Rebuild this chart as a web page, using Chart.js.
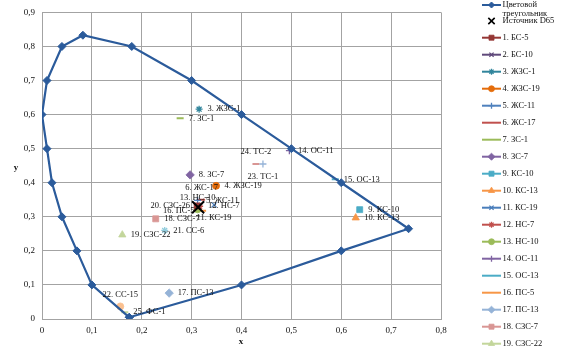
<!DOCTYPE html>
<html><head><meta charset="utf-8">
<script src="https://cdn.jsdelivr.net/npm/chart.js@4"></script>
<style>html,body{margin:0;padding:0;background:#fff;}#wrap{width:569px;height:356px;}</style>
</head><body><div id="wrap"><canvas id="c" width="569" height="356"></canvas></div>
<script>
// ---- data ----
const triName = 'Цветовой треугольник';
const triX = [0.175, 0.1, 0.07, 0.04, 0.02, 0.01, 0, 0.01, 0.04, 0.082, 0.18, 0.3, 0.4, 0.5, 0.6, 0.735, 0.6, 0.4, 0.175];
const triY = [0.005, 0.1, 0.2, 0.3, 0.4, 0.5, 0.6, 0.7, 0.8, 0.833, 0.8, 0.7, 0.6, 0.5, 0.4, 0.265, 0.2, 0.1, 0.005];
const d65Name = 'Источник D65';
const d65X = [0.313];
const d65Y = [0.328];
const sampleNames = ['1. БС-5','2. БС-10','3. ЖЗС-1','4. ЖЗС-19','5. ЖС-11','6. ЖС-17','7. ЗС-1','8. ЗС-7','9. КС-10','10. КС-13','11. КС-19','12. НС-7','13. НС-10','14. ОС-11','15. ОС-13','16. ПС-5','17. ПС-13','18. СЗС-7','19. СЗС-22','20. СЗС-26','21. СС-6','22. СС-15','23. ТС-1','24. ТС-2','25. ФС-1'];
const sampleX = [0.311, 0.313, 0.315, 0.349, 0.312, 0.32, 0.277, 0.297, 0.637, 0.629, 0.345, 0.316, 0.312, 0.496, 0.588, 0.322, 0.255, 0.228, 0.161, 0.313, 0.246, 0.157, 0.443, 0.429, 0.166];
const sampleY = [0.332, 0.33, 0.616, 0.391, 0.348, 0.35, 0.589, 0.423, 0.321, 0.297, 0.335, 0.331, 0.322, 0.494, 0.41, 0.318, 0.076, 0.294, 0.247, 0.333, 0.26, 0.037, 0.455, 0.455, 0.02];
const xTickLabels = ['0','0,1','0,2','0,3','0,4','0,5','0,6','0,7','0,8'];
const yTickLabels = ['0','0,1','0,2','0,3','0,4','0,5','0,6','0,7','0,8','0,9'];
const xTitle = 'x';
const yTitle = 'y';

// ---- styles ----
const triColor = '#2b5b9b';
const sampleColors = ['#953735','#604a7b','#31859c','#e46c0a','#4f81bd','#c0504d','#9bbb59','#8064a2','#4bacc6','#f79646','#4a7ebb','#c0504d','#9bbb59','#8064a2','#4bacc6','#f79646','#95b3d7','#d99694','#c3d69b','#b3a2c7','#93cddd','#fac090','#95b3d7','#d99694','#c3d69b'];
const sampleMarkers = ['rect','crossRot','star','circle','cross','line','line','rectRot','rect','triangle','crossRot','star','circle','cross','line','line','rectRot','rect','triangle','crossRot','star','circle','cross','line','line'];
const labelPos = ['none','none','right','right','right','above','right','right','right','right','below','right','above','right','right','left','right','right','right','left','right','above','below','above','right'];
const FONT = '"Liberation Serif", "DejaVu Serif", serif';

function toPts(xs, ys){ return xs.map((x,i)=>({x:x, y:ys[i]})); }
function markerRadius(m){ return m==='rectRot'?4.2 : m==='rect'?4.2 : m==='circle'?3.5 : m==='triangle'?4.2 : m==='line'?3.5 : 3.5; }
function markerBW(m){ return (m==='line')?2 : (m==='crossRot'||m==='cross'||m==='star')?1.3 : 0.8; }

const datasets = [
  { label: triName, data: toPts(triX, triY), showLine: true, borderColor: triColor, backgroundColor: triColor,
    borderWidth: 2.2, pointStyle: 'rectRot', pointRadius: 4, pointBorderWidth: 1, pointBackgroundColor: triColor, pointBorderColor: triColor, tension: 0 },
  { label: d65Name, data: toPts(d65X, d65Y), showLine: false, pointStyle: 'crossRot', pointRadius: 8.5,
    pointBorderWidth: 2, pointBorderColor: '#000', pointBackgroundColor: '#000' }
];
sampleNames.forEach((n,i)=>{
  const m = sampleMarkers[i];
  datasets.push({ label: n, data: [{x: sampleX[i], y: sampleY[i]}], showLine: false, pointStyle: m,
    pointRadius: markerRadius(m), pointBorderWidth: markerBW(m), pointBorderColor: sampleColors[i],
    pointBackgroundColor: sampleColors[i], borderColor: sampleColors[i], backgroundColor: sampleColors[i] });
});

const drawPt = (Chart.helpers && Chart.helpers.drawPoint) ? Chart.helpers.drawPoint : null;

const overlay = {
  id: 'overlay',
  afterDatasetsDraw(chart){
    const ctx = chart.ctx;
    ctx.save();
    ctx.font = '8.5px ' + FONT;
    ctx.fillStyle = '#111';
    for (let i = 0; i < sampleNames.length; i++){
      const pos = labelPos[i];
      if (pos === 'none') continue;
      const meta = chart.getDatasetMeta(i + 2);
      const el = meta.data[0];
      if (!el) continue;
      const px = el.x, py = el.y;
      if (pos === 'right'){ ctx.textAlign='left'; ctx.textBaseline='middle'; ctx.fillText(sampleNames[i], px+8.5, py); }
      else if (pos === 'left'){ ctx.textAlign='right'; ctx.textBaseline='middle'; ctx.fillText(sampleNames[i], px-8, py); }
      else if (pos === 'above'){ ctx.textAlign='center'; ctx.textBaseline='middle'; ctx.fillText(sampleNames[i], px, py-12); }
      else if (pos === 'below'){ ctx.textAlign='center'; ctx.textBaseline='middle'; ctx.fillText(sampleNames[i], px, py+13); }
    }
    ctx.restore();
  },
  afterDraw(chart){
    const ctx = chart.ctx;
    ctx.save();
    // axis titles
    ctx.font = 'bold 9px ' + FONT;
    ctx.fillStyle = '#111';
    ctx.textAlign = 'center'; ctx.textBaseline = 'middle';
    ctx.fillText(yTitle, 16, 168);
    ctx.fillText(xTitle, 241, 342);
    // legend
    ctx.font = '8.5px ' + FONT;
    ctx.textAlign = 'left'; ctx.textBaseline = 'middle';
    const lx0 = 482, lx1 = 501, mx = 491.5, tx = 502.5;
    // triangle entry
    ctx.strokeStyle = triColor; ctx.lineWidth = 2;
    ctx.beginPath(); ctx.moveTo(lx0, 5); ctx.lineTo(lx1, 5); ctx.stroke();
    if (drawPt) { ctx.fillStyle = triColor; ctx.strokeStyle = triColor; ctx.lineWidth = 1; drawPt(ctx, {pointStyle:'rectRot', radius:3, borderWidth:1, rotation:0}, mx, 5); }
    ctx.fillStyle = '#111';
    const parts = triName.split(' ');
    ctx.fillText(parts[0], tx, 5);
    ctx.fillText(parts[1], tx, 13.5);
    // D65 entry
    if (drawPt) { ctx.strokeStyle = '#000'; ctx.fillStyle = '#000'; ctx.lineWidth = 1.6; drawPt(ctx, {pointStyle:'crossRot', radius:4.5, borderWidth:1.6, rotation:0}, mx, 21); }
    ctx.fillStyle = '#111';
    ctx.fillText(d65Name, tx, 20.5);
    // samples
    for (let i = 0; i < sampleNames.length; i++){
      const y = 37.7 + 17 * i;
      if (y > 365) break;
      ctx.strokeStyle = sampleColors[i]; ctx.lineWidth = 2;
      ctx.beginPath(); ctx.moveTo(lx0, y); ctx.lineTo(lx1, y); ctx.stroke();
      const m = sampleMarkers[i];
      if (drawPt && m !== 'line') {
        ctx.fillStyle = sampleColors[i]; ctx.strokeStyle = sampleColors[i];
        ctx.lineWidth = markerBW(m);
        drawPt(ctx, {pointStyle:m, radius:markerRadius(m)*0.85, borderWidth:markerBW(m), rotation:0}, mx, y);
      }
      ctx.fillStyle = '#111';
      ctx.fillText(sampleNames[i], tx, y);
    }
    ctx.restore();
  }
};

new Chart(document.getElementById('c'), {
  type: 'scatter',
  data: { datasets: datasets },
  options: {
    responsive: false,
    devicePixelRatio: 1,
    animation: false,
    layout: { padding: { left: 0, right: 128, top: 9, bottom: 0 } },
    plugins: { legend: { display: false }, tooltip: { enabled: false } },
    scales: {
      x: {
        type: 'linear', min: 0, max: 0.8,
        ticks: { stepSize: 0.1, padding: 6, color: '#111', font: { family: FONT, size: 9 },
          callback: (v, i) => xTickLabels[i] },
        grid: { color: '#a3a3a3', lineWidth: 1, drawTicks: false },
        border: { display: true, color: '#a3a3a3' },
        afterFit: (s) => { s.height = 37; }
      },
      y: {
        type: 'linear', min: 0, max: 0.9,
        ticks: { stepSize: 0.1, padding: 7, color: '#111', font: { family: FONT, size: 9 },
          callback: (v, i) => yTickLabels[i] },
        grid: { color: '#a3a3a3', lineWidth: 1, drawTicks: false },
        border: { display: true, color: '#a3a3a3' },
        afterFit: (s) => { s.width = 42; }
      }
    }
  },
  plugins: [overlay]
});
</script>
</body></html>
